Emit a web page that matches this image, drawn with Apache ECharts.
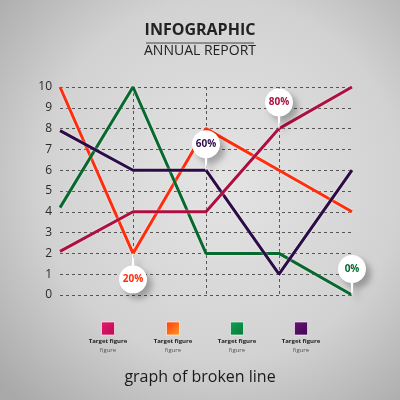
<!DOCTYPE html>
<html>
<head>
<meta charset="utf-8">
<script src="https://cdn.jsdelivr.net/npm/echarts@6/dist/echarts.min.js"></script>
<style>
  html, body { margin: 0; padding: 0; }
  #chart { width: 400px; height: 400px; }
</style>
</head>
<body>
<div id="chart"></div>
<script>
// data
const categories = ['A', 'B', 'C', 'D', 'E']
const redLine = [10, 2, 8, 6, 4]
const greenLine = [4.2, 10, 2, 2, 0]
const purpleLine = [7.9, 6, 6, 1, 6]
const crimsonLine = [2.1, 4, 4, 8, 10]
const yTicks = [0, 1, 2, 3, 4, 5, 6, 7, 8, 9, 10]
const legendNames = ['Target figure', 'Target figure', 'Target figure', 'Target figure']
const legendSub = ['figure', 'figure', 'figure', 'figure']
// callouts: [series index, category index, text, below?]
const callouts = [
  [0, 1, '20%', true],
  [2, 2, '60%', false],
  [3, 3, '80%', false],
  [1, 4, '0%', false]
]

const w_color = ['#ff2d0c', '#07692e', '#2c0b47', '#ae0f40']
const legendColors = [
  ['#e8186e', '#b80d52'],
  ['#ff3a12', '#ff9a22'],
  ['#14a052', '#067a3c'],
  ['#6a1478', '#3e0650']
]
const allData = [redLine, greenLine, purpleLine, crimsonLine]

// circle (r=14) with a thin stem under it, 28 x 40 box
const pinPath = 'path://M14,0 C21.73,0 28,6.27 28,14 C28,21.73 21.73,28 14,28 C6.27,28 0,21.73 0,14 C0,6.27 6.27,0 14,0 Z M12.6,26 L15.4,26 L14.5,40 L13.5,40 Z'

const series = allData.map((d, i) => {
  const s = {
    type: 'line',
    data: d,
    symbol: 'none',
    z: 3,
    lineStyle: {
      width: 3,
      color: w_color[i],
      shadowColor: 'rgba(255,255,255,0.7)',
      shadowBlur: 2
    }
  }
  const marks = callouts.filter(c => c[0] === i)
  if (marks.length) {
    s.markPoint = {
      z: 10,
      data: marks.map(c => {
        const below = c[3]
        return {
          coord: [c[1], allData[i][c[1]]],
          value: c[2],
          symbol: pinPath,
          symbolSize: [28, 40],
          symbolRotate: below ? 180 : 0,
          symbolOffset: [0, below ? 20 : -20],
          itemStyle: {
            color: '#ffffff',
            shadowColor: 'rgba(0,0,0,0.28)',
            shadowBlur: 6,
            shadowOffsetX: 5,
            shadowOffsetY: 5
          },
          label: {
            show: true,
            position: 'inside',
            offset: [0, below ? 6 : -6],
            formatter: c[2],
            color: w_color[i],
            fontSize: 10,
            fontWeight: 'bold',
            fontFamily: 'Open Sans'
          }
        }
      })
    }
  }
  return s
})

const graphic = [
  {
    type: 'text', left: 'center', top: 22,
    style: { text: 'INFOGRAPHIC', font: 'bold 16px "Open Sans"', fill: '#222' }
  },
  {
    type: 'line', shape: { x1: 146, y1: 43, x2: 254, y2: 43 },
    style: { stroke: '#444', lineWidth: 1 }
  },
  {
    type: 'text', left: 'center', top: 44,
    style: { text: 'ANNUAL REPORT', font: '14px "Open Sans"', fill: '#222' }
  },
  {
    type: 'text', left: 'center', top: 369,
    style: { text: 'graph of broken line', font: '16px "Open Sans"', fill: '#1a1a1a' }
  }
]
const legendX = [108, 173, 237, 301]
legendX.forEach((x, i) => {
  graphic.push({
    type: 'rect',
    shape: { x: x - 6.5, y: 322, width: 13, height: 13 },
    style: {
      fill: new echarts.graphic.LinearGradient(0, 0, 1, 1, [
        { offset: 0, color: legendColors[i][0] },
        { offset: 1, color: legendColors[i][1] }
      ]),
      stroke: 'rgba(255,255,255,0.6)',
      lineWidth: 1
    }
  })
  graphic.push({
    type: 'text',
    style: { x: x, y: 338, text: legendNames[i], font: 'bold 6px "Open Sans"', fill: '#222', align: 'center' }
  })
  graphic.push({
    type: 'text',
    style: { x: x, y: 347, text: legendSub[i], font: '6px "Open Sans"', fill: '#555', align: 'center' }
  })
})

const option = {
  backgroundColor: new echarts.graphic.RadialGradient(0.55, 0.45, 0.75, [
    { offset: 0, color: '#e4e4e4' },
    { offset: 0.6, color: '#d2d2d2' },
    { offset: 1, color: '#a9a9a9' }
  ]),
  animation: false,
  grid: { left: 60, right: 48, top: 87, bottom: 105 },
  xAxis: {
    type: 'category',
    data: categories,
    boundaryGap: false,
    axisLine: { show: false },
    axisTick: { show: false },
    axisLabel: { show: false },
    splitLine: {
      show: true,
      interval: (idx) => idx > 0 && idx < categories.length - 1,
      lineStyle: { color: '#555', type: [3, 3], width: 1 }
    }
  },
  yAxis: {
    type: 'value',
    min: yTicks[0],
    max: yTicks[yTicks.length - 1],
    interval: 1,
    axisLine: { show: false },
    axisTick: { show: false },
    axisLabel: {
      color: '#2a2a2a',
      fontSize: 12,
      fontFamily: 'Open Sans',
      margin: 8
    },
    splitLine: {
      show: true,
      lineStyle: { color: '#555', type: [3, 3], width: 1 }
    }
  },
  series: series,
  graphic: graphic
}

const chart = echarts.init(document.getElementById('chart'))
chart.setOption(option)
</script>
</body>
</html>
